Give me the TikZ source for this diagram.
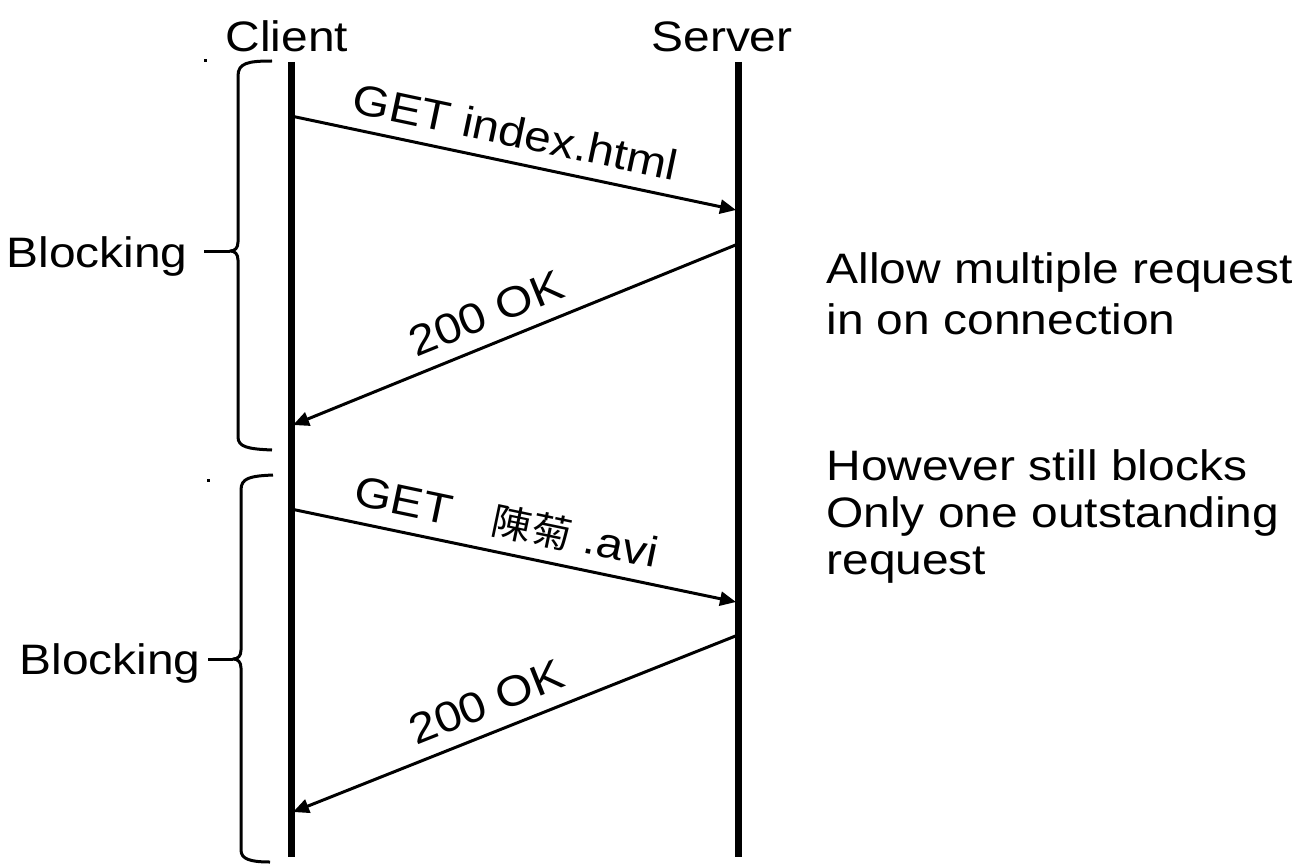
\documentclass[tikz,border=0pt]{standalone}
\usepackage{fontspec}
\setmainfont{Liberation Sans}[FakeStretch=1.125]
\newfontfamily\cjk{Noto Sans CJK TC}[FakeStretch=1.06]
\usetikzlibrary{arrows.meta}
\begin{document}
\begin{tikzpicture}[x=0.5pt,y=-0.5pt,
  font=\fontsize{21.3}{25}\selectfont,
  life/.style={line width=3.5pt},
  msg/.style={line width=1.5pt,-{Triangle[length=8pt,width=7pt]}},
  bracepath/.style={line width=1.5pt,line join=round},
  lbl/.style={inner sep=0pt,sloped},
  txt/.style={anchor=base west,inner sep=0pt},
  head/.style={anchor=base,inner sep=0pt}]
\path[use as bounding box] (0,0) rectangle (1299,866);

% headers
\node[head] (client) at (287,52) {Client};
\node[head] (server) at (722,52) {Server};

% lifelines
\coordinate (cT) at (291,62);
\coordinate (cB) at (291,857);
\coordinate (sT) at (738,62);
\coordinate (sB) at (738,857);
\draw[life] (cT) -- (cB);
\draw[life] (sT) -- (sB);

% message end points
\coordinate (m1a) at (291,116);
\coordinate (m1b) at (736,210);
\coordinate (m2a) at (738,244);
\coordinate (m2b) at (293,425);
\coordinate (m3a) at (291,509);
\coordinate (m3b) at (736,602);
\coordinate (m4a) at (738,635);
\coordinate (m4b) at (293,812);

\draw[msg] (m1a) -- node[lbl,above=7pt,pos=0.49] (l1) {GET index.html} (m1b);
\draw[msg] (m2a) -- node[lbl,above=7pt,pos=0.54] (l2) {200 OK} (m2b);
\draw[msg] (m3a) -- node[lbl,above=6pt,pos=0.47] (l3) {GET\hspace{21pt}{\cjk\fontsize{19}{21}\selectfont 陳菊} .avi} (m3b);
\draw[msg] (m4a) -- node[lbl,above=7pt,pos=0.54] (l4) {200 OK} (m4b);

% blocking labels and braces
\node[anchor=base east,inner sep=0pt] (b1) at (188,267) {Blocking};
\node[anchor=base east,inner sep=0pt] (b2) at (201,674) {Blocking};
\coordinate (k1) at (230,251);
\coordinate (k2) at (233,659);
\coordinate (t1) at (204,251);
\coordinate (t2) at (208,659);

\draw[bracepath] (272,61) .. controls (248,61) and (238,63) .. (238,76)
  -- (238,242) .. controls (238,248) and (235,251) .. (k1)
  .. controls (235,251) and (238,254) .. (238,260)
  -- (238,437) .. controls (238,447) and (248,449) .. (272,450);
\draw[bracepath] (t1) -- (k1);

\draw[bracepath] (273,475) .. controls (250,476) and (241,478) .. (241,490)
  -- (241,650) .. controls (241,656) and (238,659) .. (k2)
  .. controls (238,659) and (241,662) .. (241,668)
  -- (241,850) .. controls (241,859) and (250,862) .. (270,862);
\draw[bracepath] (t2) -- (k2);

% stray dots
\fill (203.5,59.5) rectangle (206.5,62.5);
\fill (206.5,478.5) rectangle (209.5,481.5);

% notes
\node[txt] (n1) at (826,283) {Allow multiple request};
\node[txt] (n2) at (826,334) {in on connection};
\node[txt] (n3) at (826,480) {However still blocks};
\node[txt] (n4) at (826,527) {Only one outstanding};
\node[txt] (n5) at (826,574) {request};
\end{tikzpicture}
\end{document}
